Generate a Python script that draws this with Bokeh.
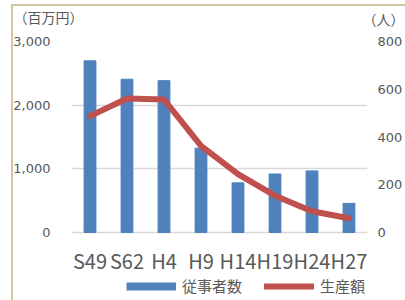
from bokeh.plotting import figure
from bokeh.models import (FactorRange, Range1d, LinearAxis, FixedTicker, NumeralTickFormatter,
                          Legend, LegendItem, Label, ColumnDataSource)
from bokeh.core.properties import value
from bokeh.embed import file_html
from bokeh.resources import INLINE

categories = ["S49", "S62", "H4", "H9", "H14", "H19", "H24", "H27"]
workers = [719, 642, 636, 353, 208, 245, 258, 122]          # 従事者数 (人)
production = [1828, 2104, 2089, 1359, 917, 578, 333, 224]   # 生産額 (百万円)
left_ticks = [0, 1000, 2000, 3000]
right_ticks = [0, 200, 400, 600, 800]
LEFT_MAX, RIGHT_MAX = 3000, 800

BLUE = "#4f81bd"
RED = "#c0504d"
GREY = "#595959"
BORDER = "#d3c79f"
NUM_FONT = "DejaVu Sans"
CJK_FONT = "Noto Sans CJK JP"

# layout (pixels): plot area spans 41..232 for the value axes; the area below holds
# the category labels and the legend
W, H = 405, 300
TOP, ZERO_Y = 41, 232
px = (ZERO_Y - TOP)                       # pixels for the full value range
below = H - ZERO_Y                        # pixels below the zero line
left_lo = -LEFT_MAX * below / px
right_lo = -RIGHT_MAX * below / px

p = figure(width=W, height=H, x_range=FactorRange(factors=categories, range_padding=0),
           y_range=Range1d(left_lo, LEFT_MAX), output_backend="svg", toolbar_location=None,
           title=None, min_border_left=71, min_border_right=38, min_border_top=TOP,
           min_border_bottom=0)
p.extra_y_ranges = {"right": Range1d(right_lo, RIGHT_MAX)}
p.outline_line_color = None
p.background_fill_color = "white"
p.border_fill_alpha = 0
# thin beige frame of the original picture (left and top edges)
p.styles = {
    "background-color": "white",
    "background-image": f"linear-gradient({BORDER}, {BORDER}), linear-gradient({BORDER}, {BORDER})",
    "background-size": "2px 296px, 394px 2px",
    "background-position": "11px 4px, 11px 4px",
    "background-repeat": "no-repeat",
}

p.xgrid.visible = False
p.ygrid.grid_line_color = "#d9d9d9"
p.ygrid.grid_line_width = 1.5
p.ygrid.ticker = FixedTicker(ticks=left_ticks)

bars = p.vbar(x=categories, top=workers, width=0.32, color=BLUE, y_range_name="right")
line = p.line(x=categories, y=production, line_color=RED, line_width=6,
              line_join="round", line_cap="round")

# category labels (below the zero line)
p.xaxis.visible = False
lab_y = -LEFT_MAX * 28 / px
p.text(x=categories, y=[lab_y] * len(categories), text=categories,
       text_font=value(CJK_FONT), text_font_size="20px", text_color=GREY,
       text_align="center", text_baseline="middle")

# value axes
ly = p.yaxis[0]
ly.ticker = FixedTicker(ticks=left_ticks)
ly.formatter = NumeralTickFormatter(format="0,0")
ly.axis_line_color = None
ly.major_tick_line_color = None
ly.minor_tick_line_color = None
ly.major_label_text_font = NUM_FONT
ly.major_label_text_font_size = "13px"
ly.major_label_text_color = GREY
ly.major_label_standoff = 15

ry = LinearAxis(y_range_name="right", ticker=FixedTicker(ticks=right_ticks))
ry.axis_line_color = None
ry.major_tick_line_color = None
ry.minor_tick_line_color = None
ry.major_label_text_font = NUM_FONT
ry.major_label_text_font_size = "13px"
ry.major_label_text_color = GREY
ry.major_label_standoff = 4
p.add_layout(ry, "right")

# legend
nan = float("nan")
s1 = ColumnDataSource(data=dict(x=[categories[0]], y=[nan]))
s2 = ColumnDataSource(data=dict(x=[categories[0]], y=[nan]))
lg_bar = p.line(x="x", y="y", source=s1, line_color=BLUE, line_width=8, line_cap="butt")
lg_line = p.line(x="x", y="y", source=s2, line_color=RED, line_width=6, line_cap="round")
legend = Legend(items=[LegendItem(label="従事者数", renderers=[lg_bar]),
                       LegendItem(label="生産額", renderers=[lg_line])],
                orientation="horizontal", location=(55, 4), padding=0, margin=0,
                spacing=22, label_standoff=6, glyph_width=50, glyph_height=20,
                label_height=20, label_text_font=CJK_FONT, label_text_font_size="15px",
                label_text_color=GREY, border_line_color=None, background_fill_alpha=0)
p.add_layout(legend, "center")

# unit labels (above the plot area)
p.add_layout(Label(x=312, y=23, x_units="screen", y_units="screen", text="（人）",
                   text_font=CJK_FONT, text_font_size="14px", text_color=GREY,
                   text_baseline="middle", text_align="center"), "above")
p.add_layout(Label(x=-58, y=5, x_units="screen", y_units="screen", text="（百万円）",
                   text_font=CJK_FONT, text_font_size="14px", text_color=GREY,
                   text_baseline="middle", text_align="left"), "above")

open("out.html", "w").write(file_html(p, INLINE))
